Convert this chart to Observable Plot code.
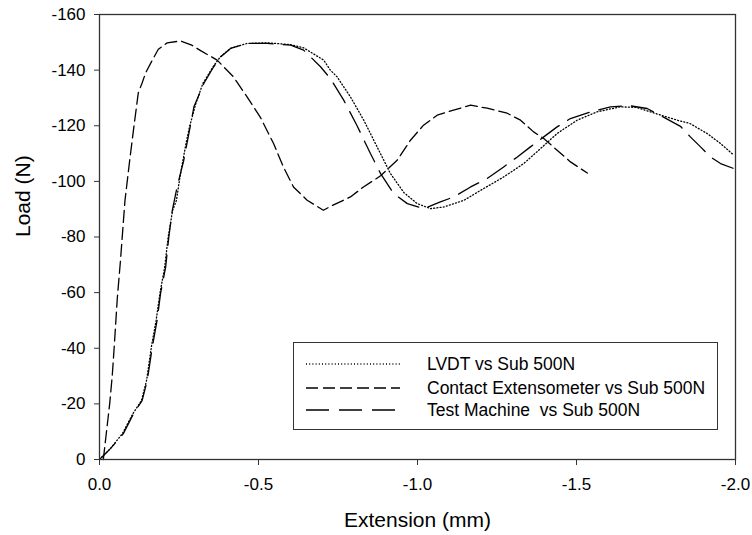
<!DOCTYPE html>
<html>
<head>
<meta charset="utf-8">
<script src="https://cdn.jsdelivr.net/npm/d3@7"></script>
<script src="https://cdn.jsdelivr.net/npm/@observablehq/plot@0.6"></script>
<style>
  html, body { margin: 0; padding: 0; background: #fff; }
  #wrap { position: relative; width: 752px; height: 535px; font-family: "Liberation Sans", Arial, sans-serif; }
  #legend { position: absolute; left: 293px; top: 342px; width: 425px; height: 88px; border: 1px solid #333; background: #fff; box-sizing: border-box; }
  .row { position: absolute; left: 0; height: 22px; display: flex; align-items: center; }
  .row svg { margin-left: 12px; }
  .row span { margin-left: 27px; font-size: 17.5px; color: #000; white-space: pre; }
</style>
</head>
<body>
<div id="wrap"></div>
<script>
// Extension (mm), Load (N) pairs
const lvdt = [[0,0],[-0.035,-4],[-0.072,-9.3],[-0.105,-16.5],[-0.132,-21.2],[-0.148,-28.4],[-0.163,-40.4],[-0.178,-50],[-0.190,-59.7],[-0.205,-69.2],[-0.216,-80],[-0.230,-89.6],[-0.242,-93.2],[-0.253,-101.6],[-0.272,-113.6],[-0.283,-119.6],[-0.303,-128],[-0.325,-135.2],[-0.357,-141.2],[-0.380,-144.8],[-0.412,-147.8],[-0.464,-149.6],[-0.527,-149.8],[-0.601,-149.2],[-0.642,-148],[-0.705,-143.6],[-0.726,-140],[-0.747,-137.6],[-0.789,-130.4],[-0.831,-122],[-0.873,-112.4],[-0.915,-102.8],[-0.957,-96],[-0.999,-92],[-1.041,-90.2],[-1.083,-90.8],[-1.146,-93.2],[-1.208,-97.4],[-1.271,-101.6],[-1.334,-106.4],[-1.387,-111.8],[-1.439,-117.2],[-1.502,-122],[-1.565,-125],[-1.638,-126.8],[-1.689,-126.6],[-1.754,-124.2],[-1.817,-122],[-1.857,-120.8],[-1.911,-117.2],[-1.953,-113.6],[-1.995,-109.4]];
const contactExt = [[-0.012,0],[-0.020,-8],[-0.032,-20],[-0.040,-30],[-0.046,-40],[-0.056,-58],[-0.066,-71.6],[-0.080,-93],[-0.095,-107.6],[-0.108,-119.5],[-0.122,-131.8],[-0.134,-135.4],[-0.145,-139],[-0.166,-143.6],[-0.185,-147.5],[-0.213,-149.8],[-0.255,-150.5],[-0.290,-149],[-0.318,-147],[-0.370,-143.6],[-0.421,-137.6],[-0.464,-130.4],[-0.506,-123],[-0.547,-113.7],[-0.579,-105],[-0.610,-98],[-0.653,-93.2],[-0.704,-89.6],[-0.726,-91],[-0.789,-94.4],[-0.830,-98],[-0.884,-102],[-0.936,-107.6],[-0.978,-114.8],[-1.019,-120.2],[-1.062,-123.8],[-1.113,-125.6],[-1.167,-127.4],[-1.219,-126.3],[-1.282,-124.5],[-1.324,-122],[-1.365,-117.8],[-1.396,-115.5],[-1.439,-111.2],[-1.481,-107],[-1.534,-103]];
const testMachine = [[0,0],[-0.035,-4],[-0.075,-9.3],[-0.107,-16.5],[-0.134,-21.2],[-0.150,-28.4],[-0.166,-40.4],[-0.181,-50],[-0.192,-59.7],[-0.208,-69.2],[-0.218,-80],[-0.229,-89.6],[-0.244,-98],[-0.265,-107.6],[-0.281,-117.2],[-0.297,-126.8],[-0.328,-135.2],[-0.359,-141.2],[-0.381,-144.8],[-0.412,-147.8],[-0.464,-149.6],[-0.527,-149.6],[-0.601,-149],[-0.642,-147.2],[-0.695,-141.2],[-0.726,-137],[-0.768,-129.2],[-0.810,-120],[-0.852,-110],[-0.884,-102.8],[-0.925,-95.6],[-0.968,-92],[-1.020,-90.2],[-1.072,-92.6],[-1.114,-94.4],[-1.167,-98],[-1.219,-101],[-1.271,-105.2],[-1.314,-108.8],[-1.355,-112.4],[-1.397,-116],[-1.439,-119.6],[-1.481,-122.6],[-1.544,-125],[-1.607,-126.8],[-1.667,-127.2],[-1.722,-126.2],[-1.775,-123],[-1.827,-119.8],[-1.858,-116],[-1.890,-112.4],[-1.921,-108.8],[-1.953,-106.4],[-1.995,-104.6]];

const seriesNames = ["LVDT vs Sub 500N", "Contact Extensometer vs Sub 500N", "Test Machine  vs Sub 500N"];
const seriesDash = ["1,2.2", "12,5", "23,10"];
const xTicks = [0, -0.5, -1.0, -1.5, -2.0];
const yTicks = [0, -20, -40, -60, -80, -100, -120, -140, -160];
const xLabel = "Extension (mm)";
const yLabel = "Load (N)";

const seriesData = [lvdt, contactExt, testMachine];
const lineMarks = seriesData.map((d, i) => Plot.line(d, {
  x: p => p[0], y: p => p[1], stroke: "#000", strokeWidth: 1.3,
  strokeDasharray: seriesDash[i], curve: "linear"
}));

const chart = Plot.plot({
  width: 752, height: 535,
  marginLeft: 99, marginRight: 17, marginTop: 14, marginBottom: 76,
  style: { fontFamily: "'Liberation Sans', Arial, sans-serif", background: "#fff", color: "#000" },
  x: { domain: [0, -2], label: null },
  y: { domain: [0, -160], label: null },
  marks: [
    ...lineMarks,
    Plot.frame({ stroke: "#333", strokeWidth: 1.3 }),
    Plot.axisX({ ticks: xTicks, tickFormat: d => d.toFixed(1), tickSize: 6, tickPadding: 12, fontSize: 17, label: null, stroke: "#333" }),
    Plot.axisY({ ticks: yTicks, tickFormat: d => String(d), tickSize: 5, tickPadding: 9, fontSize: 17, label: null, stroke: "#333" }),
    Plot.text([xLabel], { text: d => d, frameAnchor: "bottom", dy: 61, fontSize: 21, lineAnchor: "middle" }),
    Plot.text([yLabel], { text: d => d, frameAnchor: "left", dx: -76, rotate: -90, fontSize: 21, lineAnchor: "middle" })
  ]
});

const wrap = document.getElementById("wrap");
wrap.appendChild(chart);

// legend overlay
const legend = document.createElement("div");
legend.id = "legend";
const rowTops = [10, 34, 56];
seriesNames.forEach((name, i) => {
  const row = document.createElement("div");
  row.className = "row";
  row.style.top = rowTops[i] + "px";
  row.innerHTML = `<svg width="94" height="4"><line x1="0" y1="2" x2="94" y2="2" stroke="#000" stroke-width="1.3" stroke-dasharray="${seriesDash[i]}"/></svg><span>${name}</span>`;
  legend.appendChild(row);
});
wrap.appendChild(legend);
</script>
</body>
</html>
